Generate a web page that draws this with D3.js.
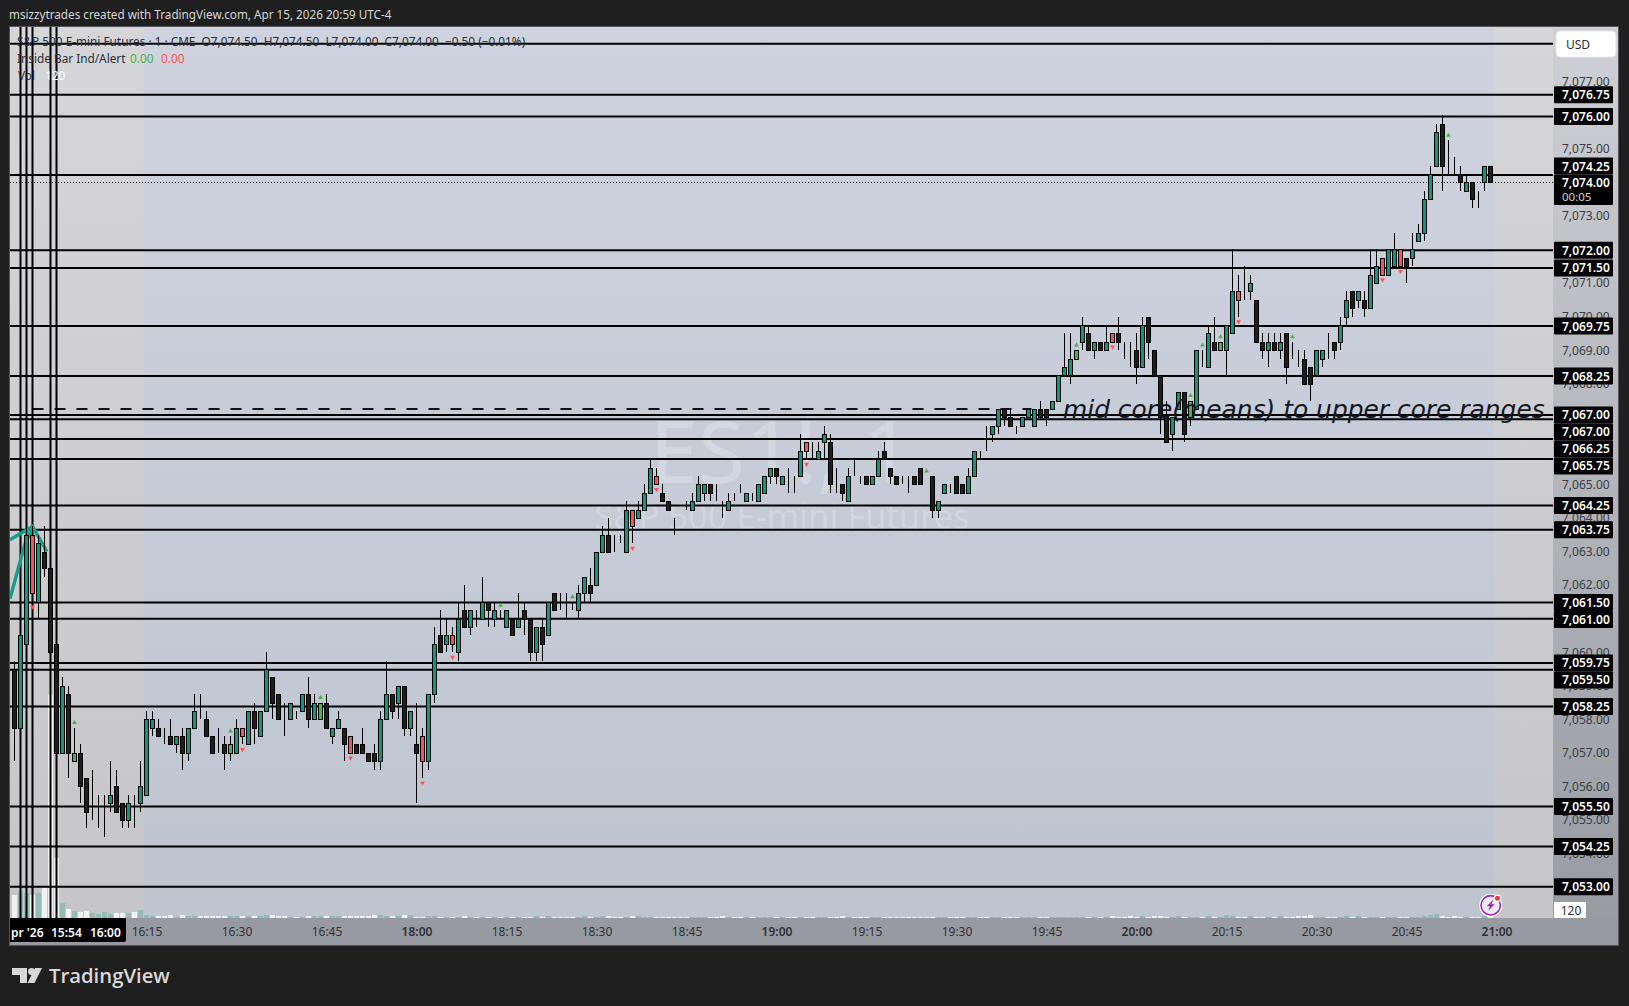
<!DOCTYPE html>
<html>
<head>
<meta charset="utf-8">
<title>ES1! 1m</title>
<script src="https://cdn.jsdelivr.net/npm/d3@7"></script>
<style>
  html, body { margin: 0; padding: 0; background: #1f1f1f; }
  svg { display: block; }
  text { font-family: "Noto Sans", "Open Sans", sans-serif; }
</style>
</head>
<body>
<svg id="chart" width="1629" height="1006"></svg>
<script>
// one minute bars, 15:53 to 20:59, rows of ten
const opens = [
  7059.5,7057.75,7060.25,7063.5,7061.5,7063,7062.5,7060.25,7057,7058.75,
  7056.75,7057,7056.25,7055.25,7055.25,7055.5,7055.5,7056,7055.5,7055,
  7055.5,7055.5,7055.75,7057.75,7057.75,7057.5,7057.5,7057.25,7057.5,7057,
  7057.75,7058,7058,7057.5,7057.25,7057.25,7057,7057,7057.75,7057.25,
  7058.25,7057.5,7058.25,7059.25,7058.75,7058,7058,7058.25,7058.25,7058.75,
  7058,7058,7058.5,7057.5,7057.75,7057.75,7057.5,7057.25,7057.25,7057,
  7057,7056.75,7058,7058.75,7058.5,7059,7057.75,7057.25,7057.5,7056.75,
  7058.75,7060.5,7060.25,7060.5,7060,7061.25,7060.75,7061,7061,7061.5,
  7061,7061,7060.75,7061,7060.75,7061.25,7061,7060,7060.75,7060.5,
  7061.75,7061.25,7061,7061.25,7061.25,7061.75,7062,7062,7063,7063.5,
  7063.25,7063.25,7063,7064.25,7064,7064.25,7064.75,7065.25,7064.75,7064.5,
  7064,7064,7064.25,7064.25,7064.5,7064.75,7065,7064.5,7064.25,7064.25,
  7064.5,7064.75,7064.5,7064.5,7064.5,7064.75,7065.25,7065.5,7065,7065,
  7065,7065.25,7066.25,7065.75,7065.75,7066.25,7066.25,7065,7065,7064.5,
  7065.5,7065.25,7065.25,7065,7065.25,7066,7065.5,7065.25,7065.25,7065,
  7065.25,7065.5,7065.25,7065.25,7064.25,7064.75,7065,7065.25,7065,7064.75,
  7065.25,7066,7066.25,7066.5,7066.75,7067.25,7067,7066.75,7066.75,7067,
  7066.75,7067.25,7067.25,7067.25,7067.5,7068.25,7068.25,7068.75,7069.25,7069.5,
  7069,7069.25,7069,7069.5,7069.5,7069.25,7069,7069,7068.5,7070,
  7069,7068.25,7067,7066.5,7067.25,7067.75,7067,7067.25,7068.75,7068.5,
  7069.25,7069,7069,7069.5,7070.75,7070.75,7070.75,7070.5,7069.25,7069,
  7069.25,7069,7069.5,7068.75,7068.75,7068.75,7068.5,7068.25,7068.75,7069.25,
  7069.25,7069.25,7070,7070.75,7070.5,7070.5,7070.25,7071,7071.75,7071.25,
  7071.5,7072,7071.75,7071.75,7072.25,7072.5,7073.5,7074.5,7075.75,7074.5,
  7074.5,7074.25,7073.75,7074,7073.75,7074,7074.5
]
const highs = [
  7059.75,7060.5,7063.75,7063.75,7063.5,7063.75,7062.5,7060.25,7059.25,7059,
  7057.75,7057.25,7056.25,7056.5,7055.75,7055.75,7056.75,7056.5,7055.5,7055.75,
  7055.75,7056.75,7058.25,7058.25,7058,7057.75,7058,7057.5,7057.75,7057.75,
  7058.75,7058.75,7058.25,7057.5,7057.75,7057.5,7057.5,7058,7057.75,7058.25,
  7058.5,7058.25,7060,7059.25,7058.75,7058.5,7058.5,7058.25,7058.75,7059.25,
  7058.75,7058.5,7058.75,7057.75,7058.25,7057.75,7057.5,7057.25,7057.75,7057,
  7057.25,7058.25,7059.75,7058.75,7059,7059,7058.25,7058.5,7057.75,7058.75,
  7060.75,7061.25,7061,7060.75,7061.5,7062,7061.25,7061.25,7062.25,7061.5,
  7061.5,7061.25,7061.25,7061,7061.75,7061.5,7061,7060.75,7061,7061.5,
  7061.75,7061.75,7061.75,7061.5,7062,7062.25,7062.5,7063,7063.75,7064,
  7063.5,7063.5,7064.5,7064.25,7064.5,7065,7065.75,7065.5,7065,7064.5,
  7064,7064,7064.5,7064.75,7065.25,7065,7065,7065,7064.5,7064.75,
  7064.75,7065,7064.75,7064.75,7065,7065.25,7065.5,7065.5,7065.25,7065.5,
  7065.25,7066.5,7066.25,7066.25,7066.25,7066.75,7066.5,7065.5,7065,7065.5,
  7065.75,7065.25,7065.25,7065.25,7066,7066.25,7065.5,7065.25,7065.25,7065.25,
  7065.25,7065.5,7065.25,7065.25,7064.5,7065,7065,7065.25,7065,7065.5,
  7066,7066,7066.75,7066.75,7067.25,7067.25,7067.25,7066.75,7067,7067.25,
  7067.25,7067.5,7067.25,7067.5,7068.25,7069.5,7069.5,7069,7070,7069.75,
  7069.25,7069.25,7069.75,7069.5,7070,7069.25,7069.25,7069.5,7070,7070,
  7069,7068.25,7067.5,7067,7067.75,7067.75,7067.5,7069,7069,7069.75,
  7070,7069.25,7069.75,7072,7071.25,7071.5,7071.25,7070.5,7069.5,7069.5,
  7069.5,7069.5,7069.5,7069.25,7069,7069,7068.5,7069,7069,7069.5,
  7069.25,7070,7070.75,7070.75,7070.75,7070.75,7072,7072,7071.75,7072,
  7072.5,7072,7071.75,7072.5,7072.75,7073.75,7074.5,7075.75,7076,7075.25,
  7074.75,7074.5,7074.25,7074,7073.75,7074.5,7074.5
]
const lows = [
  7056.75,7057.75,7060.25,7061.5,7061,7062.25,7060,7057,7057,7056.25,
  7056.75,7055.5,7054.75,7055,7054.75,7054.5,7055.25,7055.25,7054.75,7054.75,
  7054.75,7055.25,7055.75,7057.5,7057.5,7057.25,7057.25,7057,7056.5,7056.75,
  7057.75,7058,7057.5,7057,7057,7056.5,7056.75,7057,7057.25,7057.25,
  7057.25,7057.5,7058.25,7058,7058,7057.5,7058,7058,7058.25,7057.75,
  7058,7058,7057.75,7057.25,7057.75,7056.75,7057,7057,7057,7056.75,
  7056.5,7056.5,7058,7058,7058,7057.5,7057.5,7055.5,7056.25,7056.5,
  7058.5,7060,7060,7060,7059.75,7060.75,7060.5,7060.75,7061,7060.75,
  7060.75,7061,7060.75,7060.5,7060.75,7060.5,7059.75,7059.75,7059.75,7060.5,
  7061.25,7061.25,7061,7061.25,7061,7061.5,7061.5,7062,7063,7063,
  7063,7063.25,7063,7063.25,7064,7064.25,7064.75,7065,7064.5,7064.25,
  7063.5,7064,7064.25,7064.25,7064.5,7064.5,7064.5,7064.5,7064,7064.25,
  7064.5,7064.75,7064.5,7064.5,7064.5,7064.75,7065,7065,7065,7064.75,
  7064.75,7065.25,7065.75,7065.75,7065.75,7065.75,7064.75,7064.75,7064.5,7064.5,
  7065.25,7065,7065,7065,7065.25,7065.75,7065,7065,7065,7064.75,
  7065,7065,7065.25,7064,7064,7064.75,7064.75,7064.75,7064.75,7064.75,
  7065.25,7065.75,7066,7066.25,7066.5,7066.75,7066.75,7066.5,7066.75,7067,
  7066.75,7067,7066.75,7067.25,7067.5,7068.25,7068,7068.75,7069,7069,
  7068.75,7069,7069,7069.25,7069,7068.75,7068.5,7068,7068.5,7068.75,
  7068.25,7066.5,7066.25,7066,7067.25,7066.25,7066.75,7067.25,7068.5,7068.5,
  7069,7069,7068.25,7069.5,7070,7070.5,7070.5,7069.25,7068.75,7068.5,
  7069,7068.75,7068,7068.75,7068.5,7068,7067.5,7068.25,7068.5,7068.75,
  7068.75,7069,7069.75,7070,7070.25,7070,7070.25,7071,7071.25,7071.25,
  7071.5,7071.5,7071,7071.5,7072.25,7072.25,7073.5,7074.5,7073.75,7074.25,
  7074.25,7073.75,7073.75,7073.25,7073.25,7073.75,7074
]
const closes = [
  7057.75,7060.5,7063.5,7061.75,7063.25,7062.5,7060,7057,7059,7057,
  7057,7056,7055.25,7055.25,7055.25,7055.5,7055.75,7055.25,7055,7055.5,
  7055.5,7056,7058,7058,7057.5,7057.5,7057.25,7057.5,7057,7057.75,
  7058.25,7058,7057.5,7057,7057.25,7057,7057.25,7057.75,7057.5,7058.25,
  7057.75,7058.25,7059.5,7058.5,7058,7058,7058.5,7058.25,7058.75,7058,
  7058.5,7058.5,7057.75,7057.75,7058,7057.25,7057,7057,7057,7056.75,
  7056.75,7058,7058.75,7058.25,7059,7057.75,7058.25,7057,7056.75,7058.75,
  7060.25,7060,7060.5,7060.25,7061,7060.75,7061.25,7061,7061.5,7061.25,
  7061.25,7061,7061.25,7060.5,7061,7061,7060,7060.75,7060.25,7061.5,
  7061.25,7061.25,7061,7061.25,7061.75,7062.25,7061.75,7063,7063.5,7063,
  7063.25,7063.25,7064.25,7063.75,7064.25,7064.75,7065.5,7065,7064.5,7064.25,
  7064,7064,7064.25,7064.5,7065,7065,7064.75,7064.5,7064.25,7064.5,
  7064.5,7064.75,7064.75,7064.5,7065,7065.25,7065.5,7065.25,7065.25,7065,
  7065,7066,7066,7065.75,7066,7066.5,7065,7065,7064.75,7065.25,
  7065.5,7065.25,7065,7065.25,7065.75,7065.75,7065.25,7065,7065.25,7065,
  7065,7065,7065.25,7064.25,7064.5,7065,7065,7064.75,7064.75,7065.25,
  7066,7066,7066.25,7066.75,7067.25,7067,7066.75,7066.75,7067,7067.25,
  7067.25,7067,7067,7067.5,7068.25,7068.5,7068.75,7069,7069.75,7069,
  7069.25,7069,7069.25,7069.25,7069.25,7069.25,7069,7068.5,7069.75,7069.25,
  7068.25,7067,7066.25,7067,7067.75,7066.5,7067.5,7069,7068.75,7069.5,
  7069,7069.25,7069.75,7070.75,7070.5,7070.75,7071,7069.25,7069,7069.25,
  7069,7069.25,7068.5,7068.75,7068.75,7068,7068,7069,7069,7069.25,
  7069,7069.75,7070.5,7070.25,7070.75,7070.25,7071.25,7071.5,7071.25,7072,
  7072,7071.5,7071.5,7072,7072.5,7073.5,7074.25,7075.5,7074.5,7074.5,
  7074.5,7074,7074,7073.5,7073.75,7074.5,7074
]
// T teal, D black, R red inside bar, G green inside bar
const barKinds = (
  'DTTRTDDDTD' + 'GDDDDDTDDT' + 'DTTTDDDTDT' + 'TDDDDDGTRT' + 'DTTDDDTDTD' +
  'TGDTTDRDDD' + 'DTTDTDTDRT' + 'TDTRTDTDTD' + 'TDTDTDDTDT' + 'DDDDTTDTTD' +
  'DDTRTTTRDD' + 'DDDTTTDDDT' + 'DDTDTTTDTD' + 'DTRDTTDDDT' + 'DDDTTDDDDD' +
  'DDDDTTDDDT' + 'TDDTTDDDTT' + 'TDDTTTTGTD' + 'TDTRDDDDTD' + 'DDDTTDGTDT' +
  'DGTTRDTDDT' + 'DTDDDDDTTD' + 'DTTDTDTTRT' + 'TRDTTTTTDD' + 'DDTDDTD'
).split('')

const volumes = [
  1380,1620,1500,1380,1500,1800,13380,3600,900,540,
  420,360,420,300,240,360,240,300,300,300,
  360,480,180,120,120,120,180,60,180,120,
  120,120,120,120,120,120,120,120,120,120,
  120,120,180,180,120,120,60,60,60,120,
  120,120,120,120,120,120,120,120,120,120,
  180,180,120,120,120,180,180,60,60,120,
  120,60,60,60,60,120,60,60,60,60,
  60,60,60,60,60,60,60,120,60,120,
  60,60,60,60,60,120,60,60,120,120,
  60,60,60,120,120,60,60,60,60,60,
  60,60,60,60,60,60,60,60,120,60,
  60,60,60,60,60,60,60,60,60,60,
  60,60,60,60,60,60,60,60,120,60,
  60,60,60,60,60,60,60,60,60,60,
  60,60,60,60,60,60,60,60,60,60,
  60,60,60,60,60,60,60,60,60,60,
  60,60,60,60,60,60,60,60,60,60,
  60,60,60,120,60,60,120,60,120,60,
  120,120,60,60,120,60,60,60,60,120,
  60,60,180,120,60,60,120,60,60,60,
  60,120,60,60,120,120,180,60,60,60,
  60,60,120,60,120,60,60,60,60,60,
  60,60,60,60,60,120,180,240,120,60,
  120,60,60,60,60,120,120
]

// bar indexes of the inside bar arrows
const greenArrows = [10, 36, 51, 81, 93, 152, 177, 196, 198, 201, 213, 239]
const redArrows = [3, 38, 56, 68, 73, 103, 107, 132, 183, 204, 228, 231]

// drawn levels: real price of each line and the text on its price label
const levelPrices = [
  7078.13,7076.61,7075.96,7074.22,7071.98,7071.45,7069.72,7068.23,7067.07,7066.94,7066.35,
  7065.76,7064.37,7063.65,7061.48,7061,7059.68,7059.48,7058.38,7055.4,7054.21,7053.01
]
const levelLabels = [
  null,7076.75,7076,7074.25,7072,7071.5,7069.75,7068.25,7067,7067,7066.25,
  7065.75,7064.25,7063.75,7061.5,7061,7059.75,7059.5,7058.25,7055.5,7054.25,7053
]
const verticalBars = [1, 2, 3, 6, 7]
const dashedPrice = 7067.25
const lastPrice = 7074

const priceTicks = d3.range(7054, 7078)
const timeTickBars = [22,37,52,67,82,97,112,127,142,157,172,187,202,217,232,247]
const timeTickLabels = ['16:15','16:30','16:45','18:00','18:15','18:30','18:45','19:00','19:15','19:30','19:45','20:00','20:15','20:30','20:45','21:00']
const boldTimes = ['18:00','19:00','20:00','21:00']

// thick teal indicator pieces at the far left
const tealBars = [[-0.75, 3, 5.4], [-0.75, 1.7, 3]]
const tealPrices = [[7063.35, 7063.75, 7063], [7061.6, 7063.2, 7063.75]]

const plotLeft = 10, plotRight = 1553, frameRight = 1618, plotTop = 27, plotBottom = 918, frameBottom = 945

const x = d3.scaleLinear().domain([0, 246]).range([14.5, 1490.5])
const y = d3.scaleLinear().domain([7077, 7055]).range([81.7, 820])
const volY = d3.scaleLinear().domain([0, 3600]).range([plotBottom, plotBottom - 60])
const crisp = v => Math.round(v) + 0.5

const svg = d3.select('#chart')
const defs = svg.append('defs')

const addGradient = (id, top, bottom) => {
  const g = defs.append('linearGradient').attr('id', id).attr('x1', 0).attr('x2', 0).attr('y1', 0).attr('y2', 1)
  g.append('stop').attr('offset', 0).attr('stop-color', top)
  g.append('stop').attr('offset', 1).attr('stop-color', bottom)
}
addGradient('bgBlue', '#ced3df', '#bfc4d1')
addGradient('bgGrey', '#d6d6d9', '#c6c6c9')
addGradient('bgAxis', '#cfd0d5', '#979aa1')

defs.append('clipPath').attr('id', 'plotClip')
  .append('rect').attr('x', plotLeft).attr('y', plotTop)
  .attr('width', plotRight - plotLeft).attr('height', plotBottom - plotTop)

// page title
svg.append('text').attr('x', 9).attr('y', 19)
  .style('font-size', '11.7px').style('fill', '#d6d6d6')
  .text('msizzytrades created with TradingView.com, Apr 15, 2026 20:59 UTC-4')

// frame and backgrounds
svg.append('rect').attr('x', plotLeft).attr('y', plotTop)
  .attr('width', frameRight - plotLeft).attr('height', frameBottom - plotTop)
  .attr('fill', 'url(#bgAxis)')
svg.append('rect').attr('x', plotLeft).attr('y', plotTop)
  .attr('width', plotRight - plotLeft).attr('height', plotBottom - plotTop)
  .attr('fill', 'url(#bgGrey)')
svg.append('rect').attr('x', x(21.5)).attr('y', plotTop)
  .attr('width', x(246.5) - x(21.5)).attr('height', plotBottom - plotTop)
  .attr('fill', 'url(#bgBlue)')
svg.append('rect').attr('x', plotLeft - 0.5).attr('y', plotTop - 0.5)
  .attr('width', frameRight - plotLeft + 1).attr('height', frameBottom - plotTop + 1)
  .attr('fill', 'none').attr('stroke', '#55575c')
svg.append('rect').attr('x', plotLeft).attr('y', plotBottom)
  .attr('width', frameRight - plotLeft).attr('height', frameBottom - plotBottom)
  .attr('fill', '#989aa2')

const plot = svg.append('g').attr('clip-path', 'url(#plotClip)')

// watermark
plot.append('text').attr('x', 781).attr('y', 483).attr('text-anchor', 'middle')
  .style('font-size', '86px').style('fill', 'rgba(255,255,255,0.22)').text('ES1!, 1')
plot.append('text').attr('x', 782).attr('y', 529).attr('text-anchor', 'middle')
  .style('font-size', '34.5px').style('fill', 'rgba(255,255,255,0.22)').text('S&P 500 E-mini Futures')

// volume
plot.selectAll('rect.vol').data(volumes).join('rect').attr('class', 'vol')
  .attr('x', (d, i) => x(i) - 2.5).attr('width', 5)
  .attr('y', d => volY(d)).attr('height', d => plotBottom - volY(d))
  .attr('fill', (d, i) => (closes[i] > opens[i] || (closes[i] === opens[i] && i < 20)) ? 'rgba(8,153,129,0.25)' : 'rgba(255,255,255,0.75)')

// horizontal levels, dashed level, last price, verticals sit under the candles
plot.selectAll('line.level').data(levelPrices).join('line').attr('class', 'level')
  .attr('x1', plotLeft).attr('x2', plotRight)
  .attr('y1', d => y(d)).attr('y2', d => y(d))
  .attr('stroke', '#000').attr('stroke-width', 2)
plot.append('line').attr('x1', x(3)).attr('x2', x(169.5))
  .attr('y1', y(dashedPrice)).attr('y2', y(dashedPrice))
  .attr('stroke', '#111').attr('stroke-width', 2).attr('stroke-dasharray', '11 11')
plot.append('line').attr('x1', plotLeft).attr('x2', plotRight)
  .attr('y1', crisp(y(lastPrice))).attr('y2', crisp(y(lastPrice)))
  .attr('stroke', '#111').attr('stroke-dasharray', '1 2')
plot.selectAll('line.vert').data(verticalBars).join('line').attr('class', 'vert')
  .attr('x1', d => x(d)).attr('x2', d => x(d))
  .attr('y1', plotTop).attr('y2', plotBottom)
  .attr('stroke', '#000').attr('stroke-width', 2)

// teal indicator
const tealLine = d3.line().x(d => x(d[0])).y(d => y(d[1]))
tealBars.forEach((bars, k) => {
  plot.append('path').attr('d', tealLine(bars.map((b, i) => [b, tealPrices[k][i]])))
    .attr('fill', 'none').attr('stroke', '#12a08c').attr('stroke-width', 3.5)
})

// candles
const barFill = { T: '#089981', D: '#1e1e1e', R: '#f7525f', G: '#4caf50' }
const candles = plot.selectAll('g.bar').data(opens).join('g').attr('class', 'bar')
candles.append('line')
  .attr('x1', (d, i) => x(i)).attr('x2', (d, i) => x(i))
  .attr('y1', (d, i) => y(highs[i])).attr('y2', (d, i) => y(lows[i]))
  .attr('stroke', '#000').attr('shape-rendering', 'crispEdges')
candles.append('rect')
  .attr('x', (d, i) => x(i) - 2).attr('width', 4)
  .attr('y', (d, i) => crisp(y(Math.max(opens[i], closes[i]))))
  .attr('height', (d, i) => Math.abs(crisp(y(opens[i])) - crisp(y(closes[i]))))
  .attr('fill', (d, i) => barFill[barKinds[i]])
  .attr('stroke', '#000').attr('shape-rendering', 'crispEdges')

// inside bar arrows
const arrow = d3.symbol().type(d3.symbolTriangle).size(10)
plot.selectAll('path.up').data(greenArrows).join('path').attr('class', 'up')
  .attr('d', arrow).attr('fill', '#4caf50')
  .attr('transform', d => `translate(${x(d)},${y(highs[d]) - 5})`)
plot.selectAll('path.down').data(redArrows).join('path').attr('class', 'down')
  .attr('d', arrow).attr('fill', '#ff5252')
  .attr('transform', d => `translate(${x(d)},${y(lows[d]) + 5}) rotate(180)`)

// legend
const legend = plot.append('g').style('font-size', '11.8px').style('fill', '#2a2e39')
legend.append('text').attr('x', 17).attr('y', 46)
  .text('S&P 500 E-mini Futures · 1 · CME  O7,074.50  H7,074.50  L7,074.00  C7,074.00  −0.50 (−0.01%)')
  .attr('xml:space', 'preserve').style('white-space', 'pre')
legend.append('text').attr('x', 17).attr('y', 63).text('Inside Bar Ind/Alert')
legend.append('text').attr('x', 130).attr('y', 63).style('fill', '#4caf50').text('0.00')
legend.append('text').attr('x', 161).attr('y', 63).style('fill', '#ff5252').text('0.00')
legend.append('text').attr('x', 18).attr('y', 80).text('Vol')
legend.append('text').attr('x', 45).attr('y', 80).style('fill', '#fff').text('120')

// note on the chart
plot.append('text').attr('x', 1063).attr('y', 418)
  .style('font-family', '"DejaVu Sans"').style('font-style', 'oblique')
  .style('font-size', '24.9px').style('fill', '#131722')
  .text('mid core(means) to upper core ranges')

// price axis
const yAxis = d3.axisRight(y).tickValues(priceTicks).tickSize(0).tickPadding(9)
  .tickFormat(d3.format(',.2f'))
const yG = svg.append('g').attr('transform', `translate(${plotRight},0)`).call(yAxis)
yG.select('.domain').remove()
yG.selectAll('text').style('font-size', '12px').style('fill', '#3a3c42').style('font-family', '"Noto Sans"')

// price labels, pushed down when two would overlap
const currentBox = { top: 176.5, bottom: 205 }
const boxH = 17
let lastBottom = -Infinity
const labelRows = levelLabels.map((label, i) => ({ label, cy: y(levelPrices[i]) })).filter(d => d.label !== null)
labelRows.forEach(d => {
  let cy = Math.max(d.cy, lastBottom + boxH / 2)
  if (cy + boxH / 2 > currentBox.top && cy - boxH / 2 < currentBox.bottom) cy = currentBox.top - boxH / 2 - 2
  d.cy = cy
  lastBottom = cy + boxH / 2
})
const labelG = svg.selectAll('g.plabel').data(labelRows).join('g').attr('class', 'plabel')
  .attr('transform', d => `translate(${plotRight + 1},${d.cy})`)
labelG.append('rect').attr('y', -boxH / 2).attr('width', 59).attr('height', boxH).attr('rx', 1).attr('fill', '#000')
labelG.append('text').attr('x', 8).attr('y', 4.5)
  .style('font-size', '12px').style('font-weight', 600).style('fill', '#fff')
  .text(d => d3.format(',.2f')(d.label))

// current price box
svg.append('rect').attr('x', plotRight + 1).attr('y', currentBox.top - 2)
  .attr('width', 59).attr('height', currentBox.bottom - currentBox.top + 2).attr('rx', 1).attr('fill', '#000')
svg.append('text').attr('x', plotRight + 9).attr('y', 187)
  .style('font-size', '12px').style('font-weight', 600).style('fill', '#fff').text(d3.format(',.2f')(lastPrice))
svg.append('text').attr('x', plotRight + 9).attr('y', 201)
  .style('font-size', '11.5px').style('fill', '#d0d0d0').text('00:05')

// currency button
svg.append('rect').attr('x', 1556).attr('y', 31).attr('width', 60).attr('height', 26).attr('rx', 4)
  .attr('fill', '#fff').attr('stroke', '#e4e4e8')
svg.append('text').attr('x', 1566).attr('y', 49)
  .style('font-size', '12px').style('fill', '#2a2e39').text('USD')

// volume value tag
svg.append('rect').attr('x', 1554).attr('y', 902).attr('width', 32).attr('height', 16).attr('fill', '#fff')
svg.append('text').attr('x', 1571).attr('y', 915).attr('text-anchor', 'middle')
  .style('font-size', '12px').style('fill', '#2a2e39').text('120')

// time axis
const xAxis = d3.axisBottom(x).tickValues(timeTickBars).tickSize(0).tickPadding(9)
  .tickFormat((d, i) => timeTickLabels[i])
const xG = svg.append('g').attr('transform', `translate(0,${plotBottom})`).call(xAxis)
xG.select('.domain').remove()
xG.selectAll('text').style('font-size', '12px').style('fill', '#2f3136').style('font-family', '"Noto Sans"')
  .style('font-weight', (d, i) => boldTimes.includes(timeTickLabels[i]) ? 600 : 400)

// black time tags of the vertical lines
svg.append('path').attr('d', `M${plotLeft} ${plotBottom}H126V940a2 2 0 0 1 -2 2H${plotLeft}Z`).attr('fill', '#000')
const timeTags = [['pr \'26', 11], ['15:54', 51], ['16:00', 90]]
svg.selectAll('text.tag').data(timeTags).join('text').attr('class', 'tag')
  .attr('x', d => d[1]).attr('y', 937)
  .style('font-size', '12px').style('font-weight', 600).style('fill', '#fff')
  .text(d => d[0])

// alert icon
const icon = svg.append('g').attr('transform', 'translate(1490.7,905.3)')
icon.append('circle').attr('r', 11.5).attr('fill', '#fff')
icon.append('circle').attr('r', 9.7).attr('fill', '#eceaf2').attr('stroke', '#9c27b0').attr('stroke-width', 1.6)
icon.append('path').attr('d', 'M2.5 -5.5 L-4 1 H-0.8 L-2.5 5.5 L4 -1 H0.8 Z').attr('fill', '#9c27b0')
icon.append('circle').attr('cx', 6.8).attr('cy', -7).attr('r', 3.8).attr('fill', '#fff')
icon.append('circle').attr('cx', 6.8).attr('cy', -7).attr('r', 2.5).attr('fill', '#f23645')

// logo
const logo = svg.append('g').attr('fill', '#d8d8d8')
logo.append('path').attr('d', 'M12 968H27V983H20V975H12Z')
logo.append('circle').attr('cx', 31.5).attr('cy', 971.5).attr('r', 3.5)
logo.append('path').attr('d', 'M35 968H42L34.5 983H27.5Z')
logo.append('text').attr('x', 49).attr('y', 983)
  .style('font-family', '"Open Sans"').style('font-size', '20.3px').style('font-weight', 600)
  .text('TradingView')
</script>
</body>
</html>
